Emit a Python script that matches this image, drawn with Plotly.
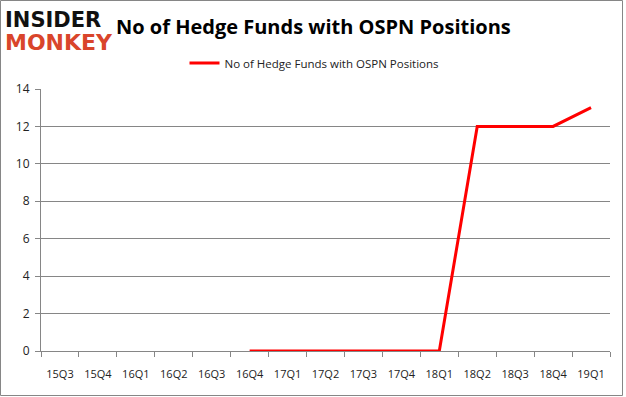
import plotly.graph_objects as go

categories = ["15Q3", "15Q4", "16Q1", "16Q2", "16Q3", "16Q4", "17Q1", "17Q2",
              "17Q3", "17Q4", "18Q1", "18Q2", "18Q3", "18Q4", "19Q1"]
hedge_funds = [None, None, None, None, None, 0, 0, 0, 0, 0, 0, 12, 12, 12, 13]
y_ticks = [0, 2, 4, 6, 8, 10, 12, 14]

W, H = 626, 397
L, R, T, B = 41, 16, 89, 46

fig = go.Figure()
fig.add_trace(go.Scatter(
    x=categories, y=hedge_funds, mode="lines",
    name="No of Hedge Funds with OSPN Positions",
    line=dict(color="#ff0000", width=3),
    connectgaps=False,
))

pw = W - L - R
ph = H - T - B
def px_x(v):
    return (v - L) / pw
def px_y(v):
    return (H - B - v) / ph

fig.update_layout(
    width=W, height=H,
    margin=dict(l=L, r=R, t=T, b=B, autoexpand=False),
    paper_bgcolor="white", plot_bgcolor="white",
    font=dict(family="Open Sans, DejaVu Sans, sans-serif", size=11, color="#222222"),
    showlegend=True,
    legend=dict(orientation="h", x=px_x(314), xanchor="center", y=px_y(63), yanchor="middle",
                font=dict(size=11.5, color="#222222"), bgcolor="rgba(0,0,0,0)"),
    xaxis=dict(
        type="category", tickson="boundaries", ticks="outside", ticklen=5,
        tickcolor="#868686", showline=True, linecolor="#868686", linewidth=1,
        showgrid=False, tickfont=dict(size=11, color="#222222"), range=[-0.5, 14.5],
        ticklabelstandoff=13,
    ),
    yaxis=dict(
        range=[0, 14], tickvals=y_ticks, ticks="outside", ticklen=5,
        tickcolor="#868686", showline=True, linecolor="#868686", linewidth=1,
        showgrid=True, gridcolor="#868686", gridwidth=1, zeroline=False,
        tickfont=dict(size=12, color="#222222"), ticklabelstandoff=3,
    ),
    annotations=[
        dict(text="<b>No of Hedge Funds with OSPN Positions</b>", x=px_x(114), y=px_y(27),
             xref="paper", yref="paper", xanchor="left", yanchor="middle", showarrow=False,
             font=dict(family="Open Sans, sans-serif", size=20, color="#000000")),
        dict(text="<b>INSIDER</b>", x=px_x(3), y=px_y(20),
             xref="paper", yref="paper", xanchor="left", yanchor="middle", showarrow=False,
             font=dict(family="DejaVu Sans, sans-serif", size=21, color="#111111")),
        dict(text="<b>MONKEY</b>", x=px_x(3), y=px_y(42),
             xref="paper", yref="paper", xanchor="left", yanchor="middle", showarrow=False,
             font=dict(family="DejaVu Sans, sans-serif", size=22, color="#d9452b")),
    ],
    shapes=[
        dict(type="rect", xref="paper", yref="paper",
             x0=px_x(0.5), x1=px_x(W - 3.5), y0=px_y(H - 1.5), y1=px_y(0.5),
             line=dict(color="#868686", width=1), fillcolor="rgba(0,0,0,0)", layer="below"),
    ],
)

fig.write_html("out.html", config={"displayModeBar": False},
               post_script="document.body.style.margin='0px';")
